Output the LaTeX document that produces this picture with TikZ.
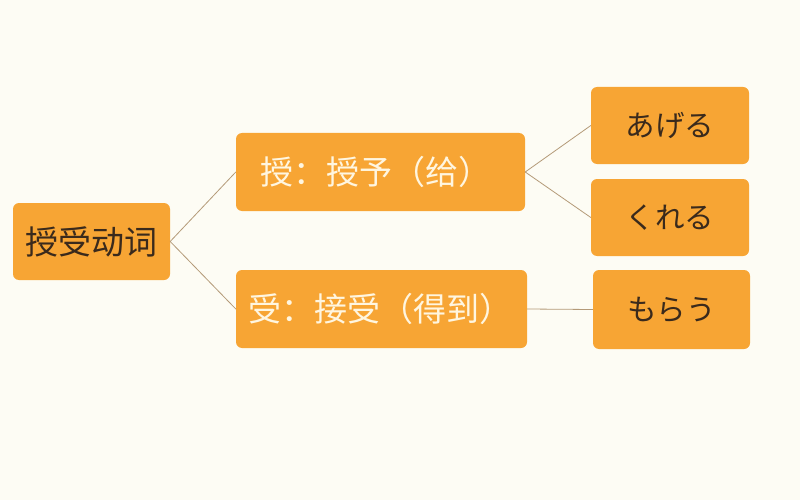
\documentclass[tikz,border=0pt]{standalone}
\usepackage{fontspec}
\setmainfont{Noto Sans CJK SC}
\definecolor{bgc}{HTML}{FDFCF4}
\definecolor{boxc}{HTML}{F7A534}
\definecolor{darktxt}{HTML}{3A2A1C}
\definecolor{lighttxt}{HTML}{FFF6E0}
\definecolor{linec}{HTML}{B49A78}
\begin{document}
\begin{tikzpicture}[x=1pt,y=-1pt,
  box/.style={fill=boxc,draw=none,rounded corners=6pt,inner sep=0pt},
  darkbox/.style={box,text=darktxt,align=center,font=\fontsize{29.5}{34}\selectfont},
  bigtxt/.style={font=\fontsize{33}{38}\selectfont},
  midtxt/.style={bigtxt,text=lighttxt,anchor=west,inner sep=0pt},
  conn/.style={draw=linec,line width=0.8pt}]
\fill[bgc] (0,0) rectangle (800,500);
\useasboundingbox (0,0) rectangle (800,500);
% root
\node[darkbox,bigtxt,minimum width=157pt,minimum height=77pt] (root) at (91.5,241.5) {授受动词};
% middle
\node[box,minimum width=289pt,minimum height=78pt] (give) at (380.5,172) {};
\node[box,minimum width=291pt,minimum height=78pt] (recv) at (381.5,309) {};
\node[midtxt] (givetext) at (260,172) {授：授予（给）};
\node[midtxt] (recvtext) at (248,309) {受：接受（得到）};
% right
\node[darkbox,minimum width=158pt,minimum height=77pt] (ageru) at (670,125.5) {あげる};
\node[darkbox,minimum width=158pt,minimum height=77pt] (kureru) at (670,217.5) {くれる};
\node[darkbox,minimum width=157pt,minimum height=79pt] (morau) at (671.5,309.5) {もらう};
% connectors
\draw[conn] (root.east) -- (give.west);
\draw[conn] (root.east) -- (recv.west);
\draw[conn] (give.east) -- (ageru.west);
\draw[conn] (give.east) -- (kureru.west);
\draw[conn] (recv.east) -- (morau.west);
\end{tikzpicture}
\end{document}
